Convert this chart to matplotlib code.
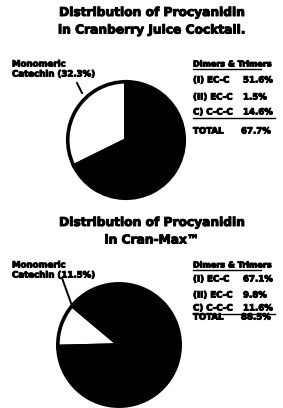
import matplotlib
matplotlib.use('Agg')
import matplotlib.pyplot as plt
import matplotlib.patheffects as pe

# pie values (percent of total procyanidin)
slice_labels = ['Monomeric Catechin', 'Dimers & Trimers']
cocktail_values = [32.3, 67.7]
cranmax_values = [11.5, 88.5]

# legend rows: dimers & trimers breakdown
row_names = ['(I) EC-C', '(II) EC-C', 'C) C-C-C']
cocktail_rows = [51.6, 1.5, 14.6]
cranmax_rows = [67.1, 9.8, 11.6]

titles = ['Distribution of Procyanidin\nin Cranberry Juice Cocktail.',
          'Distribution of Procyanidin\nin Cran-Max\u2122']

W, H = 283, 408
fig = plt.figure(figsize=(W / 100, H / 100), dpi=100)
fig.patch.set_facecolor('white')

# scanned print looks heavier than plain bold
heavy = [pe.withStroke(linewidth=0.7, foreground='black')]


def fx(x):
    return x / W


def fy(y):
    return 1 - y / H


def label(x, y, s, **kw):
    kw.setdefault('fontsize', 6.2)
    return fig.text(fx(x), fy(y), s, fontweight='bold', va='center',
                    path_effects=heavy, **kw)


def draw_panel(values, rows, title, title_y, cx, cy, r, startangle,
               label_y, legend_y, leader):
    fig.text(fx(152), fy(title_y), title, ha='center', va='top',
             fontsize=8.8, fontweight='bold', linespacing=1.45,
             path_effects=heavy)

    ax = fig.add_axes([fx(cx - r), fy(cy + r), 2 * r / W, 2 * r / H])
    ax.pie(values, colors=['white', 'black'], startangle=startangle,
           counterclock=True,
           wedgeprops=dict(edgecolor='black', linewidth=2.6))
    ax.set_xlim(-1.03, 1.03)
    ax.set_ylim(-1.03, 1.03)
    ax.set_aspect('equal')
    ax.axis('off')

    # left label for monomeric catechin
    label(12, label_y, 'Monomeric')
    label(12, label_y + 10, f'Catechin ({values[0]:.1f}%)')
    (x0, y0), (x1, y1) = leader
    fig.add_artist(plt.Line2D([fx(x0), fx(x1)], [fy(y0), fy(y1)],
                              color='black', lw=1.4))

    # right legend
    lx = 193
    label(lx, legend_y[0], 'Dimers & Trimers', fontsize=5.8)
    fig.add_artist(plt.Line2D([fx(lx), fx(lx + 68)],
                              [fy(legend_y[0] + 5)] * 2, color='black', lw=1.0))
    for name, val, yy in zip(row_names, rows, legend_y[1:4]):
        label(lx, yy, name)
        label(lx + 50, yy, f'{val:.1f}%')
    fig.add_artist(plt.Line2D([fx(lx), fx(lx + 82)],
                              [fy(legend_y[3] + 6)] * 2, color='black', lw=1.0))
    label(lx, legend_y[4], 'TOTAL')
    label(lx + 48, legend_y[4], f'{sum(rows):.1f}%')


draw_panel(cocktail_values, cocktail_rows, titles[0], 6, 126, 140, 60, 90,
           64, [64, 80, 97, 112, 131], ((77, 83), (82, 93)))
draw_panel(cranmax_values, cranmax_rows, titles[1], 216, 119, 345, 63, 140,
           265, [265, 279, 295, 308, 317], ((62, 278), (71, 303)))

fig.savefig('out.png', dpi=100, facecolor='white')
